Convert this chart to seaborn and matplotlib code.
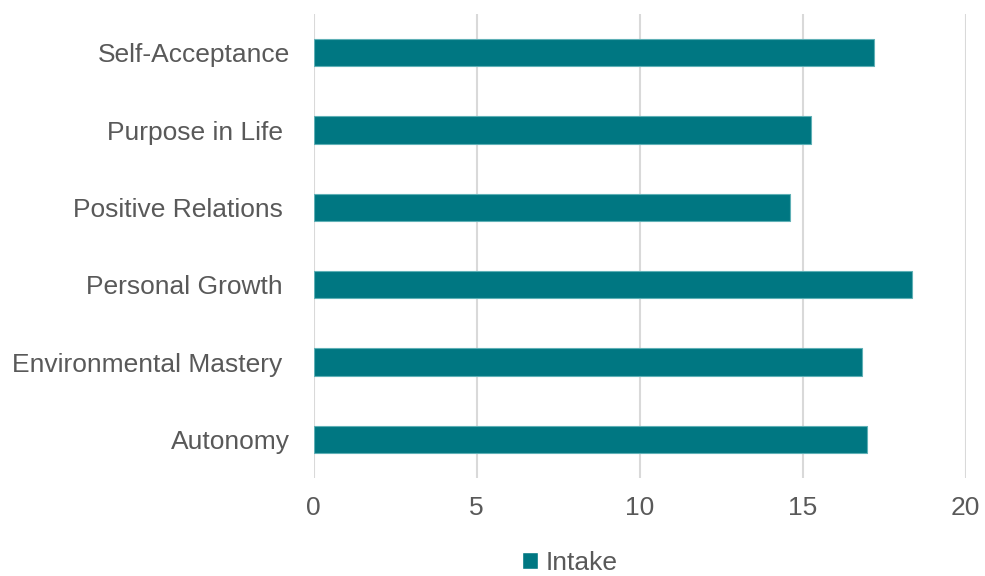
import numpy as np
import pandas as pd
import matplotlib
matplotlib.use('Agg')
import matplotlib.pyplot as plt
import seaborn as sns

# data (top to bottom)
scales = ['Self-Acceptance', 'Purpose in Life ', 'Positive Relations ',
          'Personal Growth ', 'Environmental Mastery ', 'Autonomy']
intake = [17.18, 15.27, 14.63, 18.36, 16.82, 16.99]
series = 'Intake'
xticks = [0, 5, 10, 15, 20]

bar_color = '#007782'
text_color = '#595959'
grid_color = '#d9d9d9'

df = pd.DataFrame({'scale': scales, 'score': intake, 'series': series})

sns.set_style('white')
plt.rcParams['font.family'] = ['Liberation Sans', 'DejaVu Sans']

fig = plt.figure(figsize=(9.85, 5.76), dpi=100)
ax = fig.add_axes([313.5 / 985, 1 - 478 / 576, 652 / 985, 464 / 576])

sns.barplot(data=df, x='score', y='scale', hue='series', order=scales,
            palette=[bar_color], saturation=1, width=0.35, orient='h',
            edgecolor='#5fb0b6', linewidth=0.8, ax=ax, legend=False)

ax.set_xlim(0, 20)
ax.set_xticks(xticks)
ax.set_xlabel('')
ax.set_ylabel('')
ax.xaxis.grid(True, color=grid_color, linewidth=1.5)
ax.set_axisbelow(True)
for s in ax.spines.values():
    s.set_visible(False)
ax.tick_params(axis='y', length=0, pad=17, labelsize=19, labelcolor=text_color)
ax.tick_params(axis='x', length=0, pad=13, labelsize=19, labelcolor=text_color)

handle = plt.Rectangle((0, 0), 1, 1, facecolor=bar_color)
leg = fig.legend([handle], [series], loc='center',
                 bbox_to_anchor=(570 / 985, 1 - 563 / 576), frameon=False,
                 handlelength=0.6, handleheight=0.6, handletextpad=0.3,
                 fontsize=19)
for t in leg.get_texts():
    t.set_color(text_color)

fig.savefig('out.png', dpi=100)
